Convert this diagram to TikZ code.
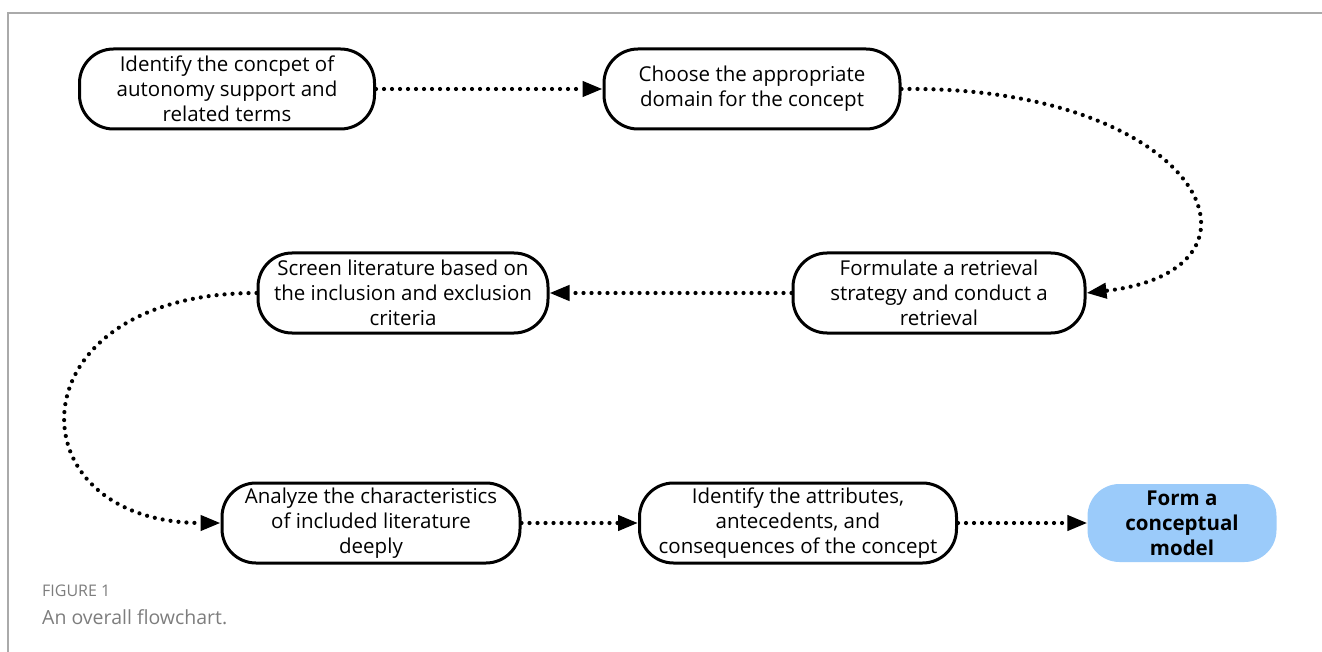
\documentclass[tikz,border=0pt]{standalone}
\usepackage{fontspec}
\setmainfont{Open Sans}
\usetikzlibrary{arrows.meta}
\definecolor{boxblue}{RGB}{155,203,250}
\definecolor{framegray}{RGB}{170,170,170}
\definecolor{capgray}{RGB}{125,125,125}
\begin{document}
\begin{tikzpicture}[x=1pt,y=-1pt,
  stepbox/.style={draw=black,line width=3pt,rounded corners=34pt,minimum width=#1,minimum height=80pt,align=center,inner sep=1pt,font=\fontsize{20.5}{25}\selectfont},
  endbox/.style={fill=boxblue,rounded corners=32pt,minimum width=189pt,minimum height=78pt,align=center,font=\fontsize{20.5}{25}\selectfont\bfseries},
  flow/.style={line width=4.2pt,dash pattern=on 0pt off 8pt,line cap=round,-{Triangle[length=20pt,width=15pt]}}
]
\useasboundingbox (0,0) rectangle (1322,652);
\draw[framegray,line width=1.3pt] (8,652) -- (8,13) -- (1322,13);

\node[stepbox=295pt] (n1) at (227,89) {Identify the concpet of\\autonomy support and\\related terms};
\node[stepbox=296pt] (n2) at (752,89) {Choose the appropriate\\domain for the concept};
\node[stepbox=292pt] (n3) at (939,293) {Formulate a retrieval\\strategy and conduct a\\retrieval};
\node[stepbox=290pt] (n4) at (403,293) {Screen literature based on\\the inclusion and exclusion\\criteria};
\node[stepbox=298pt] (n5) at (371,523) {Analyze the characteristics\\of included literature\\deeply};
\node[stepbox=317pt] (n6) at (798,523) {Identify the attributes,\\antecedents, and\\consequences of the concept};
\node[endbox] (n7) at (1182,523) {Form a\\conceptual\\model};

\draw[flow] (n1.east) -- (n2.west);
\draw[flow] (n2.east) .. controls (1200,85) and (1290,270) .. (n3.east);
\draw[flow] (n3.west) -- (n4.east);
\draw[flow] (n4.west) .. controls (10,293) and (10,523) .. (n5.west);
\draw[flow] (n5.east) -- (n6.west);
\draw[flow] (n6.east) -- (n7.west);

\node[anchor=west,text=capgray,font=\fontsize{16}{18}\selectfont,inner sep=0pt] (cap1) at (42,591) {FIGURE 1};
\node[anchor=west,text=capgray,font=\fontsize{19.5}{22}\selectfont,inner sep=0pt] (cap2) at (42,617) {An overall flowchart.};
\end{tikzpicture}
\end{document}
